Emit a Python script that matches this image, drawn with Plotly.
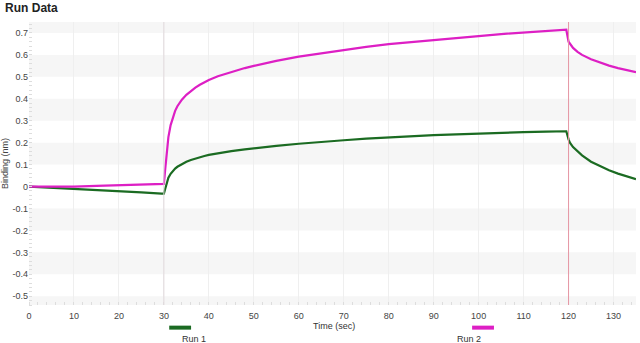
import plotly.graph_objects as go

# Time points (sec)
time = [0, 5, 10, 15, 20, 25, 29.5, 30, 30.3, 30.7, 31, 31.5, 32, 32.5, 33, 34, 35, 36, 37, 38, 39,
        40, 42, 45, 48,
        50, 55, 60, 65, 70, 75, 80, 85, 90, 95, 100, 105, 110, 115, 119.5,
        120, 120.3, 121, 122, 123, 125, 127, 129, 131, 133, 135]

run1 = [0.0, -0.006, -0.012, -0.017, -0.022, -0.027, -0.032, -0.032, -0.01, 0.02, 0.04, 0.058,
        0.072, 0.082, 0.09, 0.103, 0.113, 0.121, 0.128, 0.134, 0.139,
        0.144, 0.152, 0.161, 0.169,
        0.174, 0.185, 0.195, 0.204, 0.211, 0.218, 0.224, 0.229, 0.234, 0.238, 0.242, 0.245,
        0.248, 0.25, 0.252,
        0.215, 0.2, 0.18, 0.16, 0.142, 0.113, 0.092, 0.074, 0.059, 0.046, 0.034]

run2 = [0.0, -0.001, 0.0, 0.003, 0.006, 0.009, 0.012, 0.012, 0.08, 0.17, 0.225, 0.28,
        0.318, 0.345, 0.366, 0.396, 0.418, 0.436, 0.451, 0.464, 0.476,
        0.486, 0.503, 0.523, 0.54,
        0.55, 0.573, 0.592, 0.608, 0.623, 0.637, 0.649, 0.659, 0.668, 0.677, 0.686, 0.695,
        0.703, 0.71, 0.715,
        0.66, 0.65, 0.632, 0.614, 0.6, 0.58, 0.564, 0.551, 0.54, 0.53, 0.521]

series_names = ["Run 1", "Run 2"]
series_colors = ["#1b6b22", "#dd1fc4"]
step_times = [30, 120]
step_colors = ["#e2dadd", "#e596a3"]
band_edges = [(-0.6, -0.5), (-0.4, -0.3), (-0.2, -0.1), (0.1, 0.2), (0.3, 0.4), (0.5, 0.6), (0.7, 0.8)]
x_ticks = [0, 10, 20, 30, 40, 50, 60, 70, 80, 90, 100, 110, 120, 130]
y_ticks = [-0.5, -0.4, -0.3, -0.2, -0.1, 0, 0.1, 0.2, 0.3, 0.4, 0.5, 0.6, 0.7]
y_tick_text = ["-0.5", "-0.4", "-0.3", "-0.2", "-0.1", "0", "0.1", "0.2", "0.3", "0.4", "0.5", "0.6", "0.7"]

fig = go.Figure()

for lo, hi in band_edges:
    fig.add_shape(type="rect", xref="paper", yref="y", x0=0, x1=1, y0=lo, y1=hi,
                  fillcolor="#f6f6f6", line_width=0, layer="below")

for t, c in zip(step_times, step_colors):
    fig.add_shape(type="line", xref="x", yref="paper", x0=t, x1=t, y0=0, y1=1,
                  line=dict(color=c, width=1), layer="above")

for name, vals, col in zip(series_names, [run1, run2], series_colors):
    fig.add_trace(go.Scatter(x=time, y=vals, mode="lines", name=name,
                             line=dict(color=col, width=2.2), showlegend=False))

# custom legend: line sample above label
legend_x = [0.249, 0.748]
for name, col, lx in zip(series_names, series_colors, legend_x):
    fig.add_shape(type="line", xref="paper", yref="paper", x0=lx - 0.018, x1=lx + 0.018,
                  y0=-0.08, y1=-0.08, line=dict(color=col, width=4))
    fig.add_annotation(xref="paper", yref="paper", x=lx, y=-0.095, text=name,
                       showarrow=False, yanchor="top", font=dict(size=9, color="#333"))

fig.add_annotation(xref="paper", yref="paper", x=0.503, y=-0.05, text="Time (sec)",
                   showarrow=False, yanchor="top", font=dict(size=9, color="#333"))

fig.update_layout(
    width=640, height=343,
    margin=dict(l=29, r=4, t=22, b=38),
    plot_bgcolor="white", paper_bgcolor="white",
    font=dict(family="Liberation Sans, Arial, sans-serif", size=9, color="#444"),
    title=dict(text="<b>Run Data</b>", x=0.008, xanchor="left", y=0.99, yanchor="top",
               font=dict(size=12, color="#222")),
)

fig.update_xaxes(range=[0, 135], tickvals=x_ticks, showgrid=True, gridcolor="#efefef",
                 gridwidth=1, zeroline=False, showline=False, ticks="",
                 ticklabelstandoff=4, tickfont=dict(size=9, color="#444"),
                 minor=dict(dtick=2, ticks="inside", ticklen=3, tickcolor="#dddddd",
                            showgrid=False))
fig.update_yaxes(range=[-0.54, 0.75], tickvals=y_ticks, ticktext=y_tick_text,
                 showgrid=False, zeroline=False, showline=False, ticks="",
                 tickfont=dict(size=9, color="#444"),
                 title=dict(text="Binding (nm)", font=dict(size=9, color="#444"), standoff=2),
                 minor=dict(dtick=0.02, ticks="inside", ticklen=3, tickcolor="#dddddd",
                            showgrid=False))

fig.write_html("out.html")
